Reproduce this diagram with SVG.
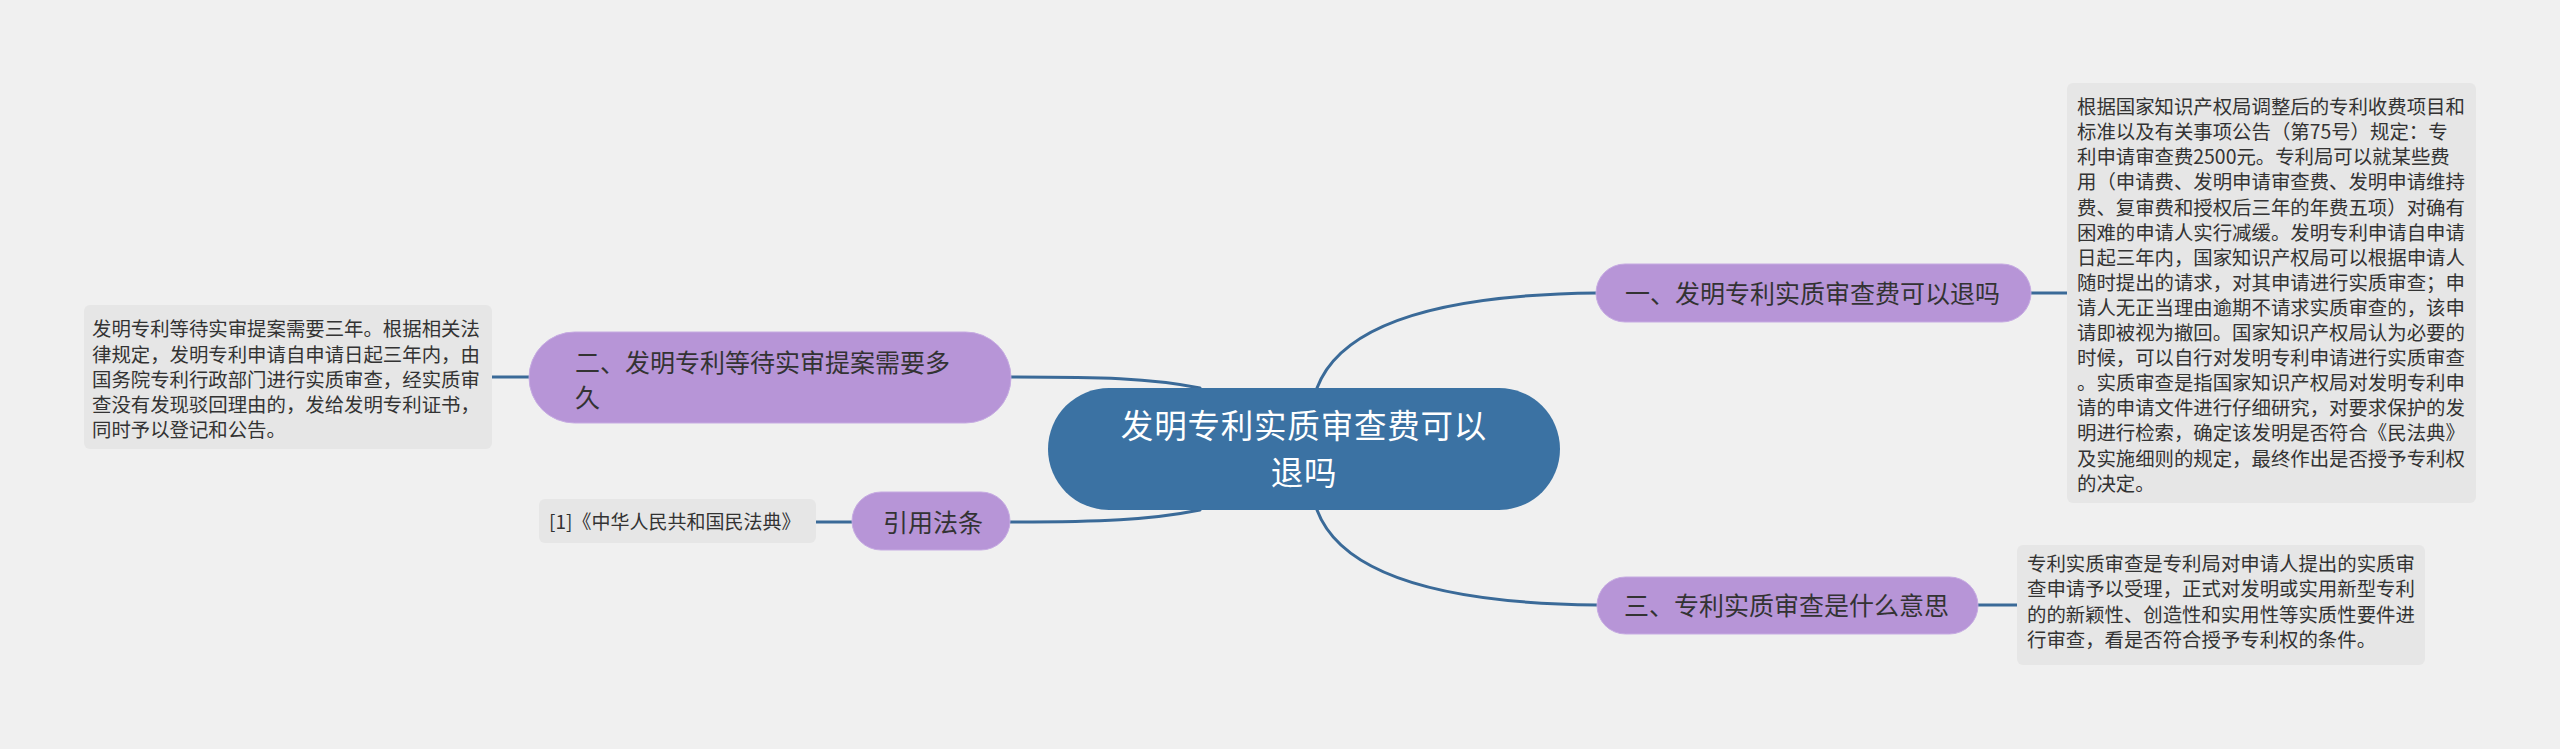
<svg xmlns="http://www.w3.org/2000/svg" width="2560" height="749" viewBox="0 0 2560 749">
<style>
.bg{fill:#f0f0f0}
.box{fill:#e6e6e6}
.sub{fill:#b795d7;stroke:#c6abe2;stroke-width:1}
.root{fill:#3b72a3}
.conn{fill:none;stroke:#3a6a98;stroke-width:3;stroke-linecap:round}
.t{font-family:"Noto Sans CJK SC","Noto Sans",sans-serif;fill:#333333}
.bt{font-size:19.4px}
.nt{font-size:25px}
.rt{font-size:32.5px;fill:#ffffff;letter-spacing:0.8px}
</style>
<rect class="bg" x="0" y="0" width="2560" height="749"/>
<g id="connectors">
<path class="conn" d="M1317,388 C1335,340 1400,295 1597,293"/>
<path class="conn" d="M1317,510 C1335,558 1400,603 1597,605"/>
<path class="conn" d="M1200,388 C1150,378 1100,377 1010,377"/>
<path class="conn" d="M1200,510 C1150,520 1100,522 1010,522"/>
<path class="conn" d="M2031,293 L2067,293"/>
<path class="conn" d="M1978,605 L2017,605"/>
<path class="conn" d="M492,377 L529,377"/>
<path class="conn" d="M816,522 L852,522"/>
</g>
<g id="root">
<rect class="root" x="1048" y="388" width="512" height="122" rx="61" ry="61"/>
<text class="t rt" text-anchor="middle"><tspan x="1304" y="438">发明专利实质审查费可以</tspan><tspan x="1304" y="485">退吗</tspan></text>
</g>
<g id="node1">
<rect class="sub" x="1596" y="264" width="435" height="58" rx="29" ry="29"/>
<text class="t nt" x="1625" y="302.5">一、发明专利实质审查费可以退吗</text>
</g>
<g id="node1-detail">
<rect class="box" x="2067" y="83" width="409" height="420" rx="6" ry="6"/>
<text class="t bt">
<tspan x="2077" y="114.1">根据国家知识产权局调整后的专利收费项目和</tspan>
<tspan x="2077" y="139.2">标准以及有关事项公告（第75号）规定：专</tspan>
<tspan x="2077" y="164.3">利申请审查费2500元。专利局可以就某些费</tspan>
<tspan x="2077" y="189.4">用（申请费、发明申请审查费、发明申请维持</tspan>
<tspan x="2077" y="214.5">费、复审费和授权后三年的年费五项）对确有</tspan>
<tspan x="2077" y="239.6">困难的申请人实行减缓。发明专利申请自申请</tspan>
<tspan x="2077" y="264.7">日起三年内，国家知识产权局可以根据申请人</tspan>
<tspan x="2077" y="289.8">随时提出的请求，对其申请进行实质审查；申</tspan>
<tspan x="2077" y="314.9">请人无正当理由逾期不请求实质审查的，该申</tspan>
<tspan x="2077" y="340">请即被视为撤回。国家知识产权局认为必要的</tspan>
<tspan x="2077" y="365.1">时候，可以自行对发明专利申请进行实质审查</tspan>
<tspan x="2077" y="390.2">。实质审查是指国家知识产权局对发明专利申</tspan>
<tspan x="2077" y="415.3">请的申请文件进行仔细研究，对要求保护的发</tspan>
<tspan x="2077" y="440.4">明进行检索，确定该发明是否符合《民法典》</tspan>
<tspan x="2077" y="465.5">及实施细则的规定，最终作出是否授予专利权</tspan>
<tspan x="2077" y="490.6">的决定。</tspan>
</text>
</g>
<g id="node3">
<rect class="sub" x="1597" y="577" width="381" height="57" rx="28.5" ry="28.5"/>
<text class="t nt" x="1624" y="614.5">三、专利实质审查是什么意思</text>
</g>
<g id="node3-detail">
<rect class="box" x="2017" y="545" width="408" height="120" rx="6" ry="6"/>
<text class="t bt">
<tspan x="2027" y="570.7">专利实质审查是专利局对申请人提出的实质审</tspan>
<tspan x="2027" y="596.2">查申请予以受理，正式对发明或实用新型专利</tspan>
<tspan x="2027" y="621.7">的的新颖性、创造性和实用性等实质性要件进</tspan>
<tspan x="2027" y="647.2">行审查，看是否符合授予专利权的条件。</tspan>
</text>
</g>
<g id="node2">
<rect class="sub" x="529" y="332" width="482" height="91" rx="45.5" ry="45.5"/>
<text class="t nt">
<tspan x="575" y="371.5">二、发明专利等待实审提案需要多</tspan>
<tspan x="575" y="406.5">久</tspan>
</text>
</g>
<g id="node2-detail">
<rect class="box" x="84" y="305" width="408" height="144" rx="6" ry="6"/>
<text class="t bt">
<tspan x="92" y="336.4">发明专利等待实审提案需要三年。根据相关法</tspan>
<tspan x="92" y="361.6">律规定，发明专利申请自申请日起三年内，由</tspan>
<tspan x="92" y="386.8">国务院专利行政部门进行实质审查，经实质审</tspan>
<tspan x="92" y="412">查没有发现驳回理由的，发给发明专利证书，</tspan>
<tspan x="92" y="437.2">同时予以登记和公告。</tspan>
</text>
</g>
<g id="node4">
<rect class="sub" x="852" y="492" width="158" height="58" rx="29" ry="29"/>
<text class="t nt" x="883" y="531.5">引用法条</text>
</g>
<g id="node4-detail">
<rect class="box" x="539" y="499" width="277" height="44" rx="6" ry="6"/>
<text class="t" style="font-size:19px" x="549" y="529">[1]《中华人民共和国民法典》</text>
</g>
</svg>
